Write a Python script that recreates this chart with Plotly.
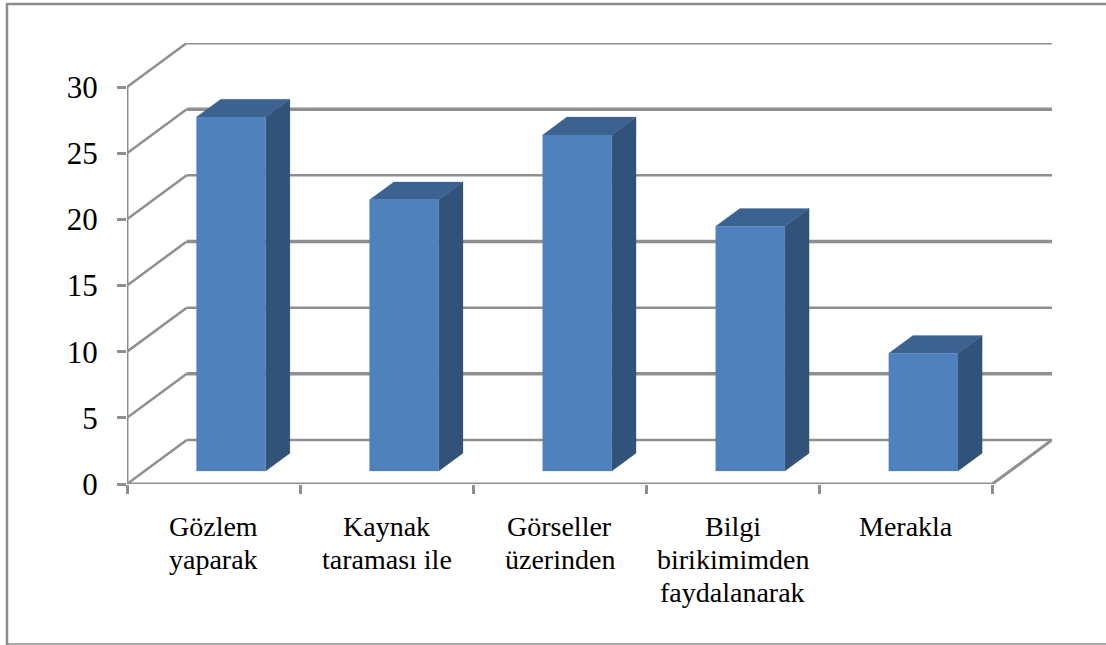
import plotly.graph_objects as go

# Data
categories = [["Gözlem", "yaparak"], ["Kaynak", "taraması ile"], ["Görseller", "üzerinden"],
              ["Bilgi", "birikimimden", "faydalanarak"], ["Merakla"]]
values = [26.75, 20.5, 25.4, 18.5, 8.9]
y_ticks = [0, 5, 10, 15, 20, 25, 30]
grid_widths = [2.5, 3.5, 2.5, 3.5, 2.5, 3.5, 3]

W, H = 1106, 645
M = dict(l=127, r=54, t=43, b=161)
PW, PH = W - M["l"] - M["r"], H - M["t"] - M["b"]
# Oblique projection of the depth axis, in axis units
DX, DY = 0.345, 3.326
X_MAX, Y_MAX = 5 + DX, 30 + DY
F0, F1 = 0.295, 0.70     # bar front/back along depth
BAR = 0.40               # bar width as a share of a category

GRID = "#8f8f8f"
FRONT, TOP, SIDE = "#4f81bd", "#3c6290", "#325379"
FONT = "Liberation Serif"


def proj(x, v, d):
    return x + d * DX, v + d * DY


def poly(pts, color):
    return go.Scatter(x=[p[0] for p in pts] + [pts[0][0]], y=[p[1] for p in pts] + [pts[0][1]],
                      mode="lines", fill="toself", fillcolor=color, line=dict(width=0.25, color=color),
                      hoverinfo="skip", showlegend=False, cliponaxis=False)


def line(xs, ys, width):
    return go.Scatter(x=xs, y=ys, mode="lines", line=dict(color=GRID, width=width),
                      hoverinfo="skip", showlegend=False, cliponaxis=False)


fig = go.Figure()
# Walls and floor
for t, w in zip(y_ticks, grid_widths):
    bx, by = proj(0, t, 1)
    ex, ey = proj(5, t, 1)
    fig.add_trace(line([0, bx], [t, by], 2.5))
    fig.add_trace(line([bx, ex], [by, ey], w))
fig.add_trace(line([0, 0], [0, 30], 3))
fig.add_trace(line([0, 5, proj(5, 0, 1)[0]], [0, 0, proj(5, 0, 1)[1]], 3))

# Bars
for i, v in enumerate(values):
    cx = i + 0.5
    x0, x1 = cx - BAR / 2, cx + BAR / 2
    fig.add_trace(poly([proj(x0, v, F0), proj(x1, v, F0), proj(x1, v, F1), proj(x0, v, F1)], TOP))
    fig.add_trace(poly([proj(x1, 0, F0), proj(x1, 0, F1), proj(x1, v, F1), proj(x1, v, F0)], SIDE))
    fig.add_trace(poly([proj(x0, 0, F0), proj(x1, 0, F0), proj(x1, v, F0), proj(x0, v, F0)], FRONT))

# Category labels
annotations = []
for i, lines in enumerate(categories):
    for j, txt in enumerate(lines):
        annotations.append(dict(x=i + 0.5, y=0, xref="x", yref="y", text=txt, showarrow=False,
                                xanchor="center", yanchor="top", yshift=-25 - 33 * j,
                                font=dict(family=FONT, size=28, color="black")))


def px(x):
    return (x - M["l"]) / PW


def py(y):
    return (H - M["b"] - y) / PH


def frame(x0, y0, x1, y1, w):
    return dict(type="line", xref="paper", yref="paper", x0=px(x0), y0=py(y0), x1=px(x1), y1=py(y1),
                line=dict(color="#8c8c8c", width=w), layer="below")


fig.update_layout(
    width=W, height=H, margin=M, paper_bgcolor="white", plot_bgcolor="white",
    showlegend=False, annotations=annotations,
    shapes=[frame(7, 4, 1106, 4, 2.5), frame(7, 3, 7, 645, 2.5), frame(7, 644, 1106, 644, 1.5)],
    xaxis=dict(range=[0, X_MAX], tickvals=list(range(6)), showticklabels=False, ticks="outside",
               ticklen=9, tickwidth=2.5, tickcolor=GRID, showgrid=False, zeroline=False, showline=False),
    yaxis=dict(range=[0, Y_MAX], tickvals=y_ticks, ticks="outside", ticklen=9, tickwidth=2.5, tickcolor=GRID,
               showgrid=False, zeroline=False, showline=False, ticklabelstandoff=13,
               tickfont=dict(family=FONT, size=31, color="black")),
)

fig.write_html("out.html", config={"displayModeBar": False},
               post_script="document.body.style.margin='0';document.body.style.overflow='hidden';")
